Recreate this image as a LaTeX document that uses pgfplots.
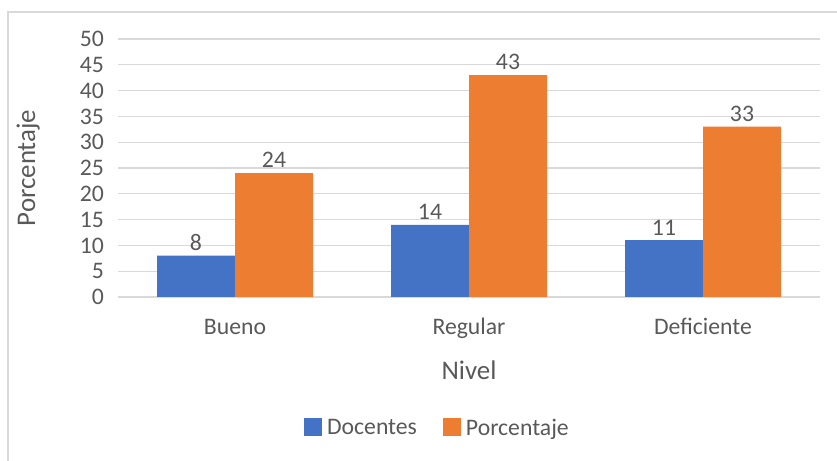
\documentclass[border=0pt]{standalone}
\usepackage{pgfplots}
\pgfplotsset{compat=1.18}
\usepackage{fontspec}
\setmainfont{Carlito}
\definecolor{cblue}{HTML}{4472C4}
\definecolor{corange}{HTML}{ED7D31}
\definecolor{ctext}{HTML}{595959}
\definecolor{cgrid}{HTML}{D9D9D9}
\begin{document}
\begin{tikzpicture}
\path[use as bounding box] (0,0) rectangle (837bp,461bp);
\draw[cgrid, line width=1.2bp] (8bp,-10bp) rectangle (850bp,449bp);
\begin{axis}[
  at={(118bp,164bp)}, anchor=south west,
  scale only axis, width=702bp, height=258bp,
  xmin=-0.5, xmax=2.5, ymin=0, ymax=50,
  xtick={0,1,2}, xticklabels={Bueno,Regular,Deficiente},
  ytick={0,5,...,50},
  axis line style={draw=none},
  major tick length=0pt,
  ymajorgrids, grid style={cgrid, line width=1.2bp},
  /pgf/number format/assume math mode=true,
  tick label style={font=\fontsize{23.8}{28}\selectfont, text=ctext},
  yticklabel style={anchor=east, inner sep=0pt, xshift=-14bp},
  xticklabel style={anchor=base, inner sep=0pt, yshift=-37bp},
  xlabel={Nivel}, ylabel={Porcentaje},
  label style={font=\fontsize{27}{31}\selectfont, text=ctext},
  xlabel style={at={(axis description cs:0.5,-0.283)}, anchor=center},
  ylabel style={at={(axis description cs:-0.128,0.5)}, anchor=center, rotate=0},
  ybar, bar width=78bp,
  nodes near coords,
  nodes near coords style={font=\fontsize{23.8}{28}\selectfont, text=ctext, anchor=south, inner sep=0pt, yshift=5bp},
  legend columns=2,
  legend style={at={(axis description cs:0.455,-0.508)}, anchor=center, draw=none, fill=none,
    font=\fontsize{23.8}{28}\selectfont, text=ctext,
    /tikz/every odd column/.append style={column sep=3bp},
    /tikz/every even column/.append style={column sep=24bp}},
  legend image code/.code={\fill[#1] (0bp,-8bp) rectangle (18bp,10bp);},
]
\addplot[fill=cblue, draw=none, bar shift=-39bp] coordinates {(0,8) (1,14) (2,11)};
\addplot[fill=corange, draw=none, bar shift=39bp] coordinates {(0,24) (1,43) (2,33)};
\legend{Docentes, Porcentaje}
\end{axis}
\end{tikzpicture}
\end{document}
